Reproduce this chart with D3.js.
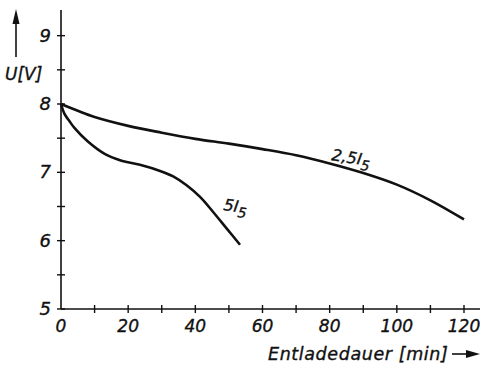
<!DOCTYPE html>
<html lang="de">
<head>
<meta charset="UTF-8">
<title>Entladekurven</title>
<script src="https://cdnjs.cloudflare.com/ajax/libs/d3/7.8.5/d3.min.js"></script>
<style>
  body { margin: 0; background: #fff; }
  svg { display: block; }
  text { font-family: "DejaVu Sans", sans-serif; font-style: italic; fill: #111; stroke: #111; stroke-width: 0.35; }
</style>
</head>
<body>
<div id="chart"></div>
<script>
// Data (Entladedauer in min, Spannung in V)
const timeA = [0, 5, 10, 20, 30, 40, 50, 60, 70, 80, 90, 100, 110, 120];
const voltA = [8.0, 7.9, 7.81, 7.68, 7.58, 7.49, 7.42, 7.34, 7.25, 7.13, 6.99, 6.82, 6.59, 6.31];
const timeB = [0, 1, 2.5, 4, 8, 13, 18, 23.5, 29.5, 33.4, 37.4, 41.4, 45.3, 49.3, 53.3];
const voltB = [8.0, 7.86, 7.75, 7.65, 7.45, 7.27, 7.17, 7.11, 7.02, 6.94, 6.81, 6.64, 6.42, 6.18, 5.94];
const xTicks = [0, 20, 40, 60, 80, 100, 120];
const yTicks = [5, 6, 7, 8, 9];

const width = 480, height = 367;
const svg = d3.select("#chart").append("svg")
  .attr("width", width).attr("height", height);

const x = d3.scaleLinear().domain([0, 120]).range([61, 464]);
const y = d3.scaleLinear().domain([5, 8]).range([309, 104]);

const ink = "#111";

// axes lines
svg.append("line").attr("x1", x(0)).attr("x2", x(0)).attr("y1", 10).attr("y2", y(5))
  .attr("stroke", ink).attr("stroke-width", 1.6);
svg.append("line").attr("x1", x(0)).attr("x2", 480).attr("y1", y(5)).attr("y2", y(5))
  .attr("stroke", ink).attr("stroke-width", 1.6);

// ticks (crossing the axis)
const yMinor = d3.range(5, 9.01, 0.5);
svg.selectAll(".yt").data(yMinor).join("line")
  .attr("x1", x(0) - 4).attr("x2", x(0) + 4)
  .attr("y1", d => y(d)).attr("y2", d => y(d))
  .attr("stroke", ink).attr("stroke-width", 1.4);
const xMinor = d3.range(10, 121, 10);
svg.selectAll(".xt").data(xMinor).join("line")
  .attr("x1", d => x(d)).attr("x2", d => x(d))
  .attr("y1", y(5) - 4).attr("y2", y(5) + 4)
  .attr("stroke", ink).attr("stroke-width", 1.4);

// tick labels
svg.selectAll(".yl").data(yTicks).join("text")
  .attr("x", x(0) - 10).attr("y", d => y(d) + 6)
  .attr("text-anchor", "end").attr("font-size", 18)
  .text(d => d);
svg.selectAll(".xl").data(xTicks).join("text")
  .attr("x", d => x(d)).attr("y", y(5) + 23)
  .attr("text-anchor", "middle").attr("font-size", 17)
  .text(d => d);

// axis titles
svg.append("text").attr("x", 5).attr("y", 80).attr("font-size", 17).text("U[V]");
svg.append("line").attr("x1", 16).attr("x2", 16).attr("y1", 57).attr("y2", 20)
  .attr("stroke", ink).attr("stroke-width", 1.6);
svg.append("path").attr("d", "M16,9 L12.5,24 L19.5,24 Z").attr("fill", ink);

svg.append("text").attr("x", 268).attr("y", 360).attr("font-size", 17.5)
  .attr("letter-spacing", 0.6).text("Entladedauer [min]");
svg.append("line").attr("x1", 452).attr("x2", 470).attr("y1", 354).attr("y2", 354)
  .attr("stroke", ink).attr("stroke-width", 1.6);
svg.append("path").attr("d", "M466,350 L480,354 L466,358 Z").attr("fill", ink);

// curves
const line = d3.line().x(d => x(d[0])).y(d => y(d[1])).curve(d3.curveCatmullRom.alpha(0.5));
svg.append("path").datum(d3.zip(timeA, voltA))
  .attr("d", line).attr("fill", "none").attr("stroke", ink).attr("stroke-width", 2.6);
svg.append("path").datum(d3.zip(timeB, voltB))
  .attr("d", line).attr("fill", "none").attr("stroke", ink).attr("stroke-width", 2.6);

// curve labels
function label(tx, ty, angle, pre) {
  const t = svg.append("text").attr("font-size", 16)
    .attr("transform", `translate(${tx},${ty}) rotate(${angle})`);
  t.append("tspan").text(pre + "I");
  t.append("tspan").attr("dy", 5).attr("font-size", 14).text("5");
}
label(331, 160, 9, "2,5");
label(223, 210, 8, "5");
</script>
</body>
</html>
